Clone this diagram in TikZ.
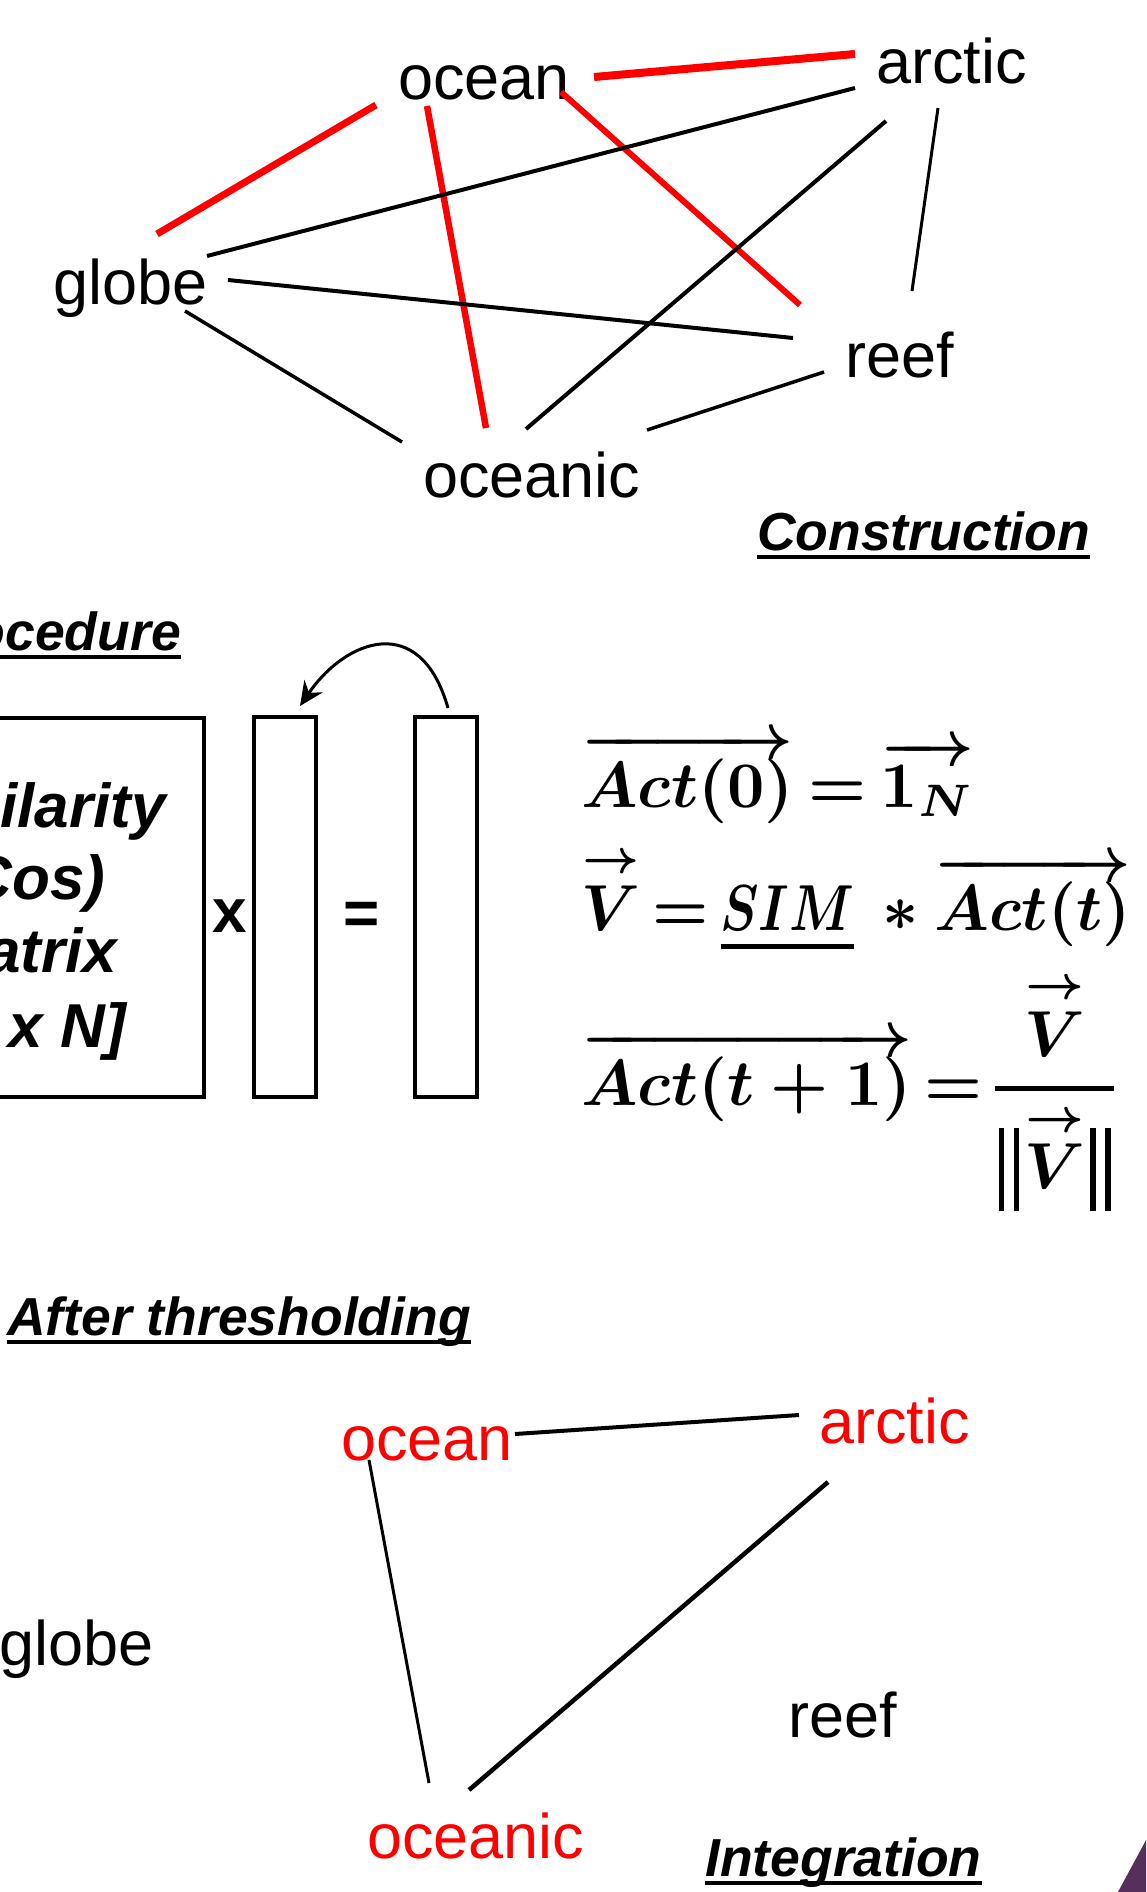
\documentclass[tikz,border=0pt]{standalone}
\usepackage{amsmath}
\usepackage{graphicx}
\usepackage{fontspec}
\setmainfont{Liberation Sans}
\usetikzlibrary{calc,arrows.meta}
\definecolor{purp}{HTML}{562F5C}
\newcommand\wordfont{\fontsize{63}{75}\selectfont}
\newcommand\titlefont{\fontsize{53.5}{64}\selectfont\bfseries\itshape}
\newcommand\boxfont{\fontsize{62}{74}\selectfont\bfseries\itshape}
\newcommand\opfont{\fontsize{62}{74}\selectfont\bfseries}
\newcommand\eqfont{\fontsize{10}{12}\selectfont\boldmath}
\newcommand\bigeq[1]{\scalebox{6.5}{#1}}
\newcommand\ulthick[1]{\vtop{\hbox{#1}\kern2.1pt\hrule height0.85pt}}
\newcommand\vecV{\overset{\rightarrow}{V}}
\newcommand\dbar{\rule[-3.5pt]{0.86pt}{12.9pt}\kern1.4pt\rule[-3.5pt]{0.86pt}{12.9pt}}
\begin{document}
\begin{tikzpicture}[x=1pt,y=-1pt,
  word/.style={inner sep=0pt, font=\wordfont, anchor=base west},
  ttl/.style={inner sep=0pt, font=\titlefont, anchor=base west},
  uline/.style={line width=4pt},
  redge/.style={red, line width=#1},
  bedge/.style={black, line width=#1},
  boxtxt/.style={inner sep=0pt, font=\boxfont, anchor=base},
  colbox/.style={draw, line width=3.3pt, minimum width=62pt, minimum height=380pt, inner sep=0pt},
  eqn/.style={inner sep=0pt, font=\eqfont, anchor=base west}]
\path[use as bounding box] (0,0) rectangle (1146,1892);
\clip (0,0) rectangle (1146,1892);
\fill[white] (0,0) rectangle (1146,1892);

% ---------- Construction graph ----------
\node[word] (ocean) at (398,100) {ocean};
\node[word] (arctic) at (876,84) {arctic};
\node[word] (globe) at (53,304) {globe};
\node[word] (reef) at (845,377) {reef};
\node[word] (oceanic) at (423,497) {oceanic};
\node[ttl] (constr) at (757,550) {Construction};
\draw[uline] ($(constr.base west)+(0,7)$) -- ($(constr.base east)+(0,7)$);

\coordinate (e1a) at (594,77);  \coordinate (e1b) at (855,54);
\coordinate (e2a) at (157,234); \coordinate (e2b) at (376,105);
\coordinate (e3a) at (427,106); \coordinate (e3b) at (486,428);
\coordinate (e4a) at (561,92);  \coordinate (e4b) at (800,305);
\coordinate (e5a) at (207,256); \coordinate (e5b) at (855,88);
\coordinate (e6a) at (228,280); \coordinate (e6b) at (793,338);
\coordinate (e7a) at (185,311); \coordinate (e7b) at (402,442);
\coordinate (e8a) at (526,429); \coordinate (e8b) at (886,121);
\coordinate (e9a) at (938,108); \coordinate (e9b) at (912,291);
\coordinate (e10a) at (824,372); \coordinate (e10b) at (647,430);

\draw[redge=8pt] (e1a) -- (e1b);
\draw[redge=7pt] (e2a) -- (e2b);
\draw[redge=6.5pt] (e3a) -- (e3b);
\draw[redge=6pt] (e4a) -- (e4b);
\draw[bedge=4pt] (e5a) -- (e5b);
\draw[bedge=4pt] (e6a) -- (e6b);
\draw[bedge=3.5pt] (e7a) -- (e7b);
\draw[bedge=4pt] (e8a) -- (e8b);
\draw[bedge=3pt] (e9a) -- (e9b);
\draw[bedge=3.5pt] (e10a) -- (e10b);

% ---------- Procedure ----------
\node[ttl, anchor=base east] (proc) at (181,650) {Procedure};
\draw[uline] ($(proc.base west)+(0,7)$) -- ($(proc.base east)+(0,7)$);

\node[draw, line width=3.3pt, minimum width=356pt, minimum height=379pt, inner sep=0pt] (simbox) at (26,907.5) {};
\node[boxtxt] (s1) at (26,827) {Similarity};
\node[boxtxt] (s2) at (26,899) {(Cos)};
\node[boxtxt] (s3) at (26,972) {Matrix};
\node[boxtxt] (s4) at (26,1047) {[N x N]};

\node[inner sep=0pt, font=\opfont, anchor=base] (times) at (230,932) {x};
\node[colbox] (v1) at (285,907) {};
\node[inner sep=0pt, font=\opfont, anchor=base] (eqsign) at (362,934) {=};
\node[colbox] (v2) at (446,907) {};

\coordinate (arrS) at (448,708);
\coordinate (arrE) at (300,706);
\draw[line width=3pt, -{Stealth[length=24pt,width=22pt,inset=8pt]}]
  (arrS) .. controls (420,610) and (345,640) .. (arrE);

\node[eqn] (eq1) at (581,807) {\bigeq{$\thickmuskip=3.5mu \overrightarrow{Act(0)} = \overrightarrow{1_N}$}};
\node[eqn] (eq2) at (581,930) {\scalebox{6.3}[6.5]{$\thickmuskip=3mu \vecV = \ulthick{\scalebox{0.82}[1]{$SIM$}}\;\ast\overrightarrow{Act(t)}$}};
\node[eqn] (eq3) at (581,1105) {\bigeq{$\thickmuskip=3mu\nulldelimiterspace=0pt \overrightarrow{Act(t+1)} = \genfrac{}{}{0.75pt}{0}{\vecV}{\kern0.6pt\dbar\kern0.8pt\vecV\kern0.8pt\dbar\kern0.6pt}$}};

% ---------- After thresholding ----------
\node[ttl] (after) at (7,1335) {After thresholding};
\draw[uline] ($(after.base west)+(0,7)$) -- ($(after.base east)+(0,7)$);

\node[word, red] (ocean2) at (341,1460) {ocean};
\node[word, red] (arctic2) at (819,1443) {arctic};
\node[word] (globe2) at (-1,1665) {globe};
\node[word] (reef2) at (788,1737) {reef};
\node[word, red] (oceanic2) at (367,1858) {oceanic};
\node[ttl] (integ) at (705,1876) {Integration};
\draw[uline] ($(integ.base west)+(0,7)$) -- ($(integ.base east)+(0,7)$);

\coordinate (f1a) at (515,1434); \coordinate (f1b) at (799,1415);
\coordinate (f2a) at (369,1460); \coordinate (f2b) at (429,1783);
\coordinate (f3a) at (828,1482); \coordinate (f3b) at (469,1790);
\draw[bedge=4pt] (f1a) -- (f1b);
\draw[bedge=3pt] (f2a) -- (f2b);
\draw[bedge=4.5pt] (f3a) -- (f3b);

% ---------- purple corner ----------
\fill[purp] (1118,1892) .. controls (1127,1875) and (1137,1857) .. (1146,1840)
  -- (1146,1892) -- cycle;
\end{tikzpicture}
\end{document}
